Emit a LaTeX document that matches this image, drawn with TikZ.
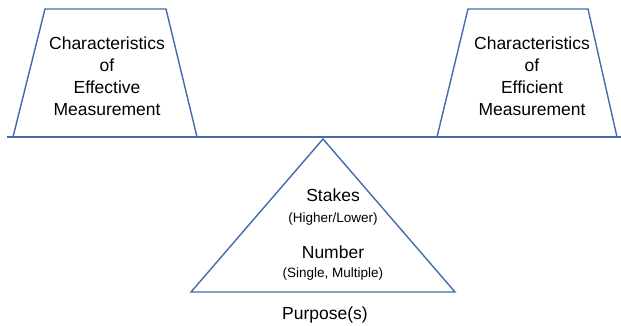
\documentclass[tikz,border=0pt]{standalone}
\usepackage{fontspec}
\setmainfont{Liberation Sans}
\definecolor{lineblue}{RGB}{68,108,168}
\begin{document}
\begin{tikzpicture}[x=1pt,y=-1pt,
  shapeline/.style={draw=lineblue,line width=1.4pt,line join=miter},
  beamline/.style={draw=lineblue,line width=2.4pt},
  bigtext/.style={font=\fontsize{17.5}{22}\selectfont,align=center,inner sep=0pt},
  smalltext/.style={font=\fontsize{13.5}{16}\selectfont,align=center,inner sep=0pt}]
\useasboundingbox (0,0) rectangle (621,326);
% left trapezoid
\draw[shapeline] (13,137) -- (45,9) -- (166,9) -- (197,137);
% right trapezoid
\draw[shapeline] (437,137) -- (468,9) -- (588,9) -- (617,137);
% triangle
\coordinate (apex) at (323,139);
\draw[shapeline] (apex) -- (455,292) -- (191,292) -- cycle;
% beam
\coordinate (bl) at (7,137);
\coordinate (br) at (621,137);
\draw[beamline] (bl) -- (br);
% texts
\node[bigtext] (eff) at (107,76) {Characteristics\\of\\Effective\\Measurement};
\node[bigtext] (effi) at (532,76) {Characteristics\\of\\Efficient\\Measurement};
\node[bigtext,anchor=base] (stakes) at (333,201) {Stakes};
\node[smalltext,anchor=base] (hl) at (333,222) {(Higher/Lower)};
\node[bigtext,anchor=base] (num) at (333,258) {Number};
\node[smalltext,anchor=base] (sm) at (333,277) {(Single, Multiple)};
\node[bigtext,anchor=base] (purp) at (325,319) {Purpose(s)};
\end{tikzpicture}
\end{document}
